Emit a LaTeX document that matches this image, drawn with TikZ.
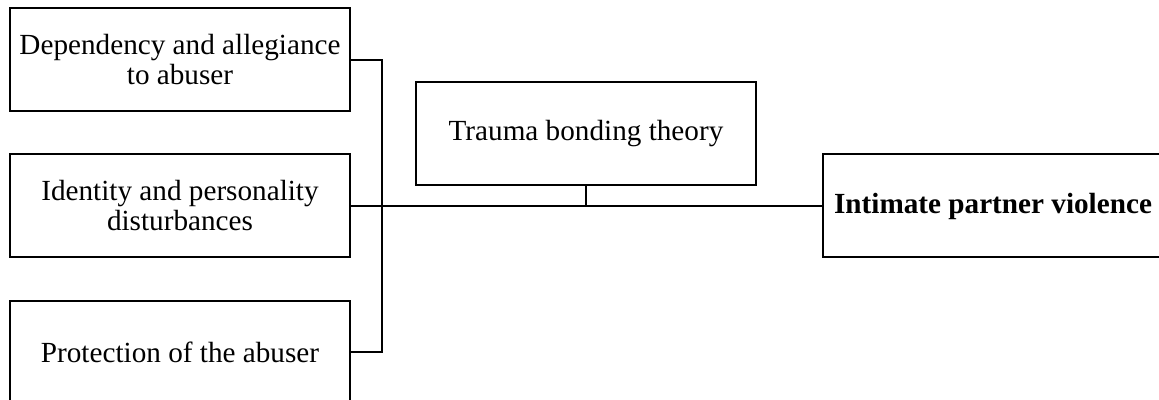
\documentclass[tikz,border=0pt]{standalone}
\usepackage{fontspec}
\setmainfont{Liberation Serif}
\usepackage{tikz}
\usetikzlibrary{positioning,calc}

\begin{document}
\begin{tikzpicture}[
  x=0.5pt, y=-0.5pt,
  factor/.style={draw, line width=1pt, outer sep=0pt, minimum width=170pt, minimum height=51.5pt, inner sep=2pt, align=center, font=\fontsize{14.6}{15}\selectfont},
  link/.style={line width=1.1pt, black}
]
  \path[use as bounding box, clip] (0,0) rectangle (1159,400);

  \node[factor] (dep) at (180,60) {Dependency and allegiance\\to abuser};
  \node[factor, below=21.5pt of dep] (ident) {Identity and personality\\disturbances};
  \node[factor, below=21.5pt of ident] (prot) {Protection of the abuser};
  \node[factor] (trauma) at (586,133.5) {Trauma bonding theory};
  \node[factor, font=\fontsize{14.6}{15}\selectfont\bfseries] (ipv) at (993,206) {Intimate partner violence};

  \coordinate (spine) at ($(ident.east)+(32,0)$);

  \draw[link] (dep.east) -| (spine) |- (prot.east);
  \draw[link] (ident.east) -- (ipv.west);
  \draw[link] (trauma.south) -- (trauma.south |- ipv.west);
\end{tikzpicture}
\end{document}
